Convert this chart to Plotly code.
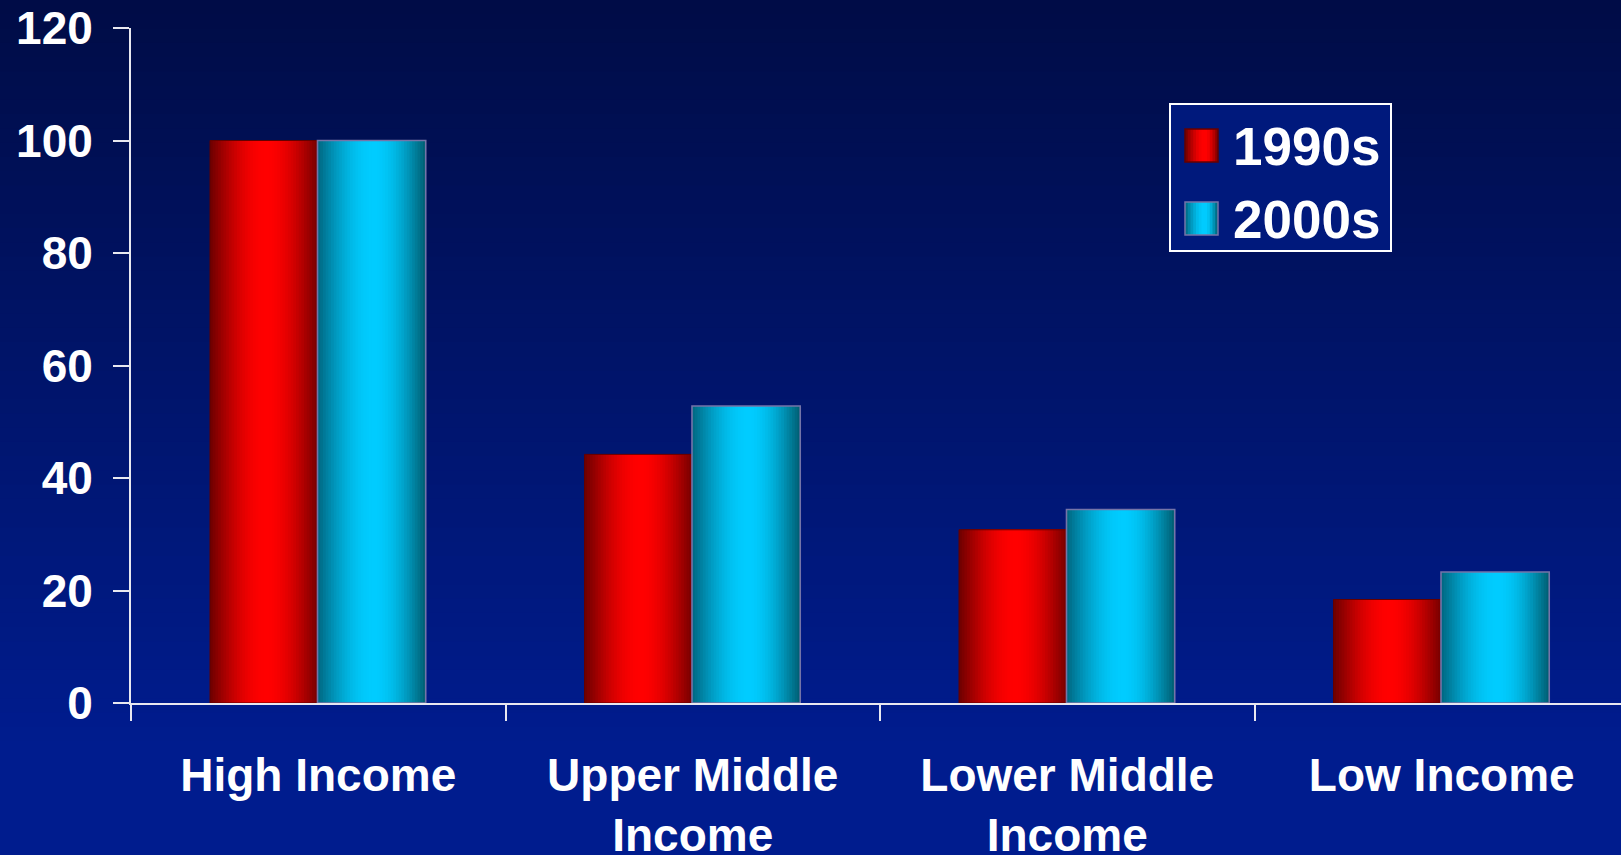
import numpy as np
import plotly.graph_objects as go

# ---- data ----
categories = ["High Income", "Upper Middle<br>Income", "Lower Middle<br>Income", "Low Income"]
series_names = ["1990s", "2000s"]
values_1990s = [100, 44.2, 30.8, 18.4]
values_2000s = [100, 52.8, 34.4, 23.3]
y_ticks = [0, 20, 40, 60, 80, 100, 120]

# ---- canvas geometry (px) ----
W, H = 1621, 855
PL, PR, PT, PB = 131, 1621, 28, 703   # plot area edges
FONT = "Liberation Sans, Arial, Helvetica, sans-serif"


def hex2rgb(h):
    h = h.lstrip("#")
    return np.array([int(h[i:i + 2], 16) for i in (0, 2, 4)], dtype=float)


def rgb2hex(c):
    c = np.clip(np.round(c), 0, 255).astype(int)
    return "#%02x%02x%02x" % tuple(c)


def cylinder(dark_l, bright, dark_r, t, peak=0.52):
    """Horizontal shading across a bar: dark edges, bright middle."""
    if t < peak:
        s, edge = t / peak, hex2rgb(dark_l)
    else:
        s, edge = (1 - t) / (1 - peak), hex2rgb(dark_r)
    f = np.sin(s * np.pi / 2)
    return rgb2hex(edge + (hex2rgb(bright) - edge) * f)


def px_x(px):
    return (px - PL) / (PR - PL)


def px_y(py):
    return (PB - py) / (PB - PT)


styles = {
    "1990s": dict(dark_l="#6c0000", bright="#ff0000", dark_r="#760000",
                  offset=-0.289, width=0.287, edge="#640000", edge_w=1),
    "2000s": dict(dark_l="#006680", bright="#00ccff", dark_r="#005c70",
                  offset=-0.002, width=0.289, edge="#7474a8", edge_w=1.6),
}

N = 40
fig = go.Figure()
for name, vals in zip(series_names, [values_1990s, values_2000s]):
    st = styles[name]
    step = st["width"] / N
    for k in range(N):
        col = cylinder(st["dark_l"], st["bright"], st["dark_r"], (k + 0.5) / N)
        fig.add_trace(go.Bar(
            x=categories, y=vals, name=name,
            offset=st["offset"] + k * step, width=st["width"] - k * step,
            marker=dict(color=col, line=dict(width=0)),
            showlegend=False, hoverinfo="skip",
        ))
    # thin outline around each bar
    fig.add_trace(go.Bar(
        x=categories, y=vals, name=name,
        offset=st["offset"], width=st["width"],
        marker=dict(color="rgba(0,0,0,0)", line=dict(color=st["edge"], width=st["edge_w"])),
        showlegend=False, hovertemplate="%{y}<extra>" + name + "</extra>",
    ))

shapes = []

# background: vertical navy gradient over the whole canvas
top_c, bot_c = hex2rgb("#000c46"), hex2rgb("#001c8e")
bands = 60
for i in range(bands):
    y0 = H * i / bands
    y1 = H * (i + 1) / bands + 1
    f = (i + 0.5) / bands
    f = min(1.0, f * 1.15)
    shapes.append(dict(
        type="rect", xref="paper", yref="paper", layer="below",
        x0=px_x(0), x1=px_x(W + 2), y0=px_y(y1), y1=px_y(y0),
        fillcolor=rgb2hex(top_c + (bot_c - top_c) * f), line=dict(width=0),
    ))

# legend box
shapes.append(dict(
    type="rect", xref="paper", yref="paper", layer="above",
    x0=px_x(1170), x1=px_x(1391), y0=px_y(251), y1=px_y(104),
    fillcolor="#00197c", line=dict(color="white", width=2),
))

annotations = []
legend_rows = [(129, 162, 146), (202, 235, 219)]
for name, (sy0, sy1, ty) in zip(series_names, legend_rows):
    st = styles[name]
    sx0, sx1 = 1185, 1218
    m = 12
    for k in range(m):
        col = cylinder(st["dark_l"], st["bright"], st["dark_r"], (k + 0.5) / m, peak=0.6)
        shapes.append(dict(
            type="rect", xref="paper", yref="paper", layer="above",
            x0=px_x(sx0 + (sx1 - sx0) * k / m), x1=px_x(sx1),
            y0=px_y(sy1), y1=px_y(sy0), fillcolor=col, line=dict(width=0),
        ))
    shapes.append(dict(
        type="rect", xref="paper", yref="paper", layer="above",
        x0=px_x(sx0), x1=px_x(sx1), y0=px_y(sy1), y1=px_y(sy0),
        fillcolor="rgba(0,0,0,0)", line=dict(color=st["edge"], width=1.5),
    ))
    annotations.append(dict(
        text=name, xref="paper", yref="paper", x=px_x(1231), y=px_y(ty),
        xanchor="left", yanchor="middle", showarrow=False,
        font=dict(family=FONT, size=53, color="white", weight="bold"),
    ))

fig.update_layout(
    width=W, height=H,
    margin=dict(l=PL, r=W - PR, t=PT, b=H - PB, pad=0, autoexpand=False),
    paper_bgcolor="#000f55", plot_bgcolor="rgba(0,0,0,0)",
    barmode="overlay", showlegend=False,
    shapes=shapes, annotations=annotations,
    xaxis=dict(
        type="category", categoryorder="array", categoryarray=categories,
        range=[-0.5, -0.5 + (PR - PL) / 374.5], automargin=False,
        showline=True, linecolor="#e8e8f0", linewidth=2,
        ticks="outside", tickson="boundaries", ticklen=16, tickwidth=2, tickcolor="#e8e8f0",
        showgrid=False, zeroline=False, ticklabelstandoff=31,
        tickfont=dict(family=FONT, size=46, color="white", weight="bold"),
    ),
    yaxis=dict(
        range=[0, 120], tickvals=y_ticks, automargin=False,
        showline=True, linecolor="#e8e8f0", linewidth=2,
        ticks="outside", ticklen=16, tickwidth=2, tickcolor="#e8e8f0",
        showgrid=False, zeroline=False, ticklabelstandoff=11,
        tickfont=dict(family=FONT, size=46, color="white", weight="bold"),
    ),
)

fig.write_html("out.html")
